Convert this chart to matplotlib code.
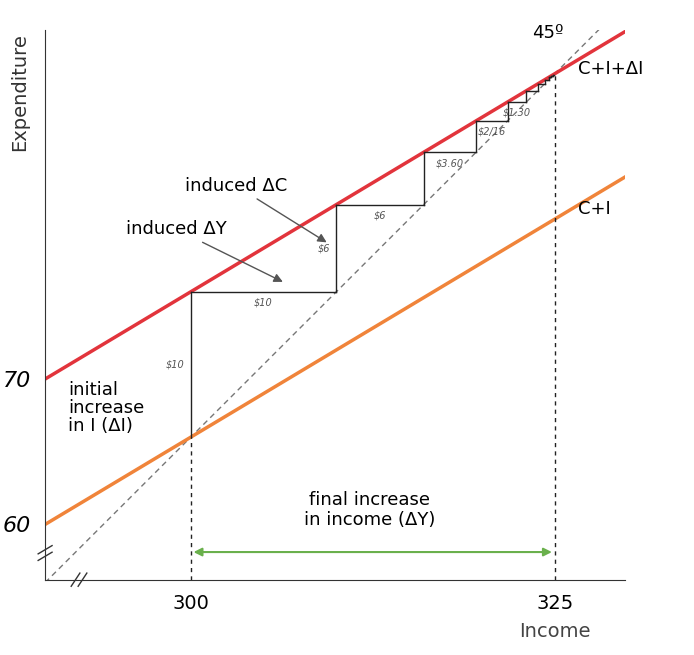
import matplotlib
matplotlib.use("Agg")
import matplotlib.pyplot as plt
import numpy as np

mpc = 0.6
income_range = [290, 330]
y0 = 300          # initial equilibrium income
delta_i = 10      # initial increase in investment
y1 = 325          # final income
vert_labels = ["$10", "$6"]
horiz_labels = ["$10", "$6", "$3.60", "$2/16", "$1.30"]
ytick_vals = [294, 304]
ytick_labels = ["60", "70"]
xtick_vals = [300, 325]
xtick_labels = ["300", "325"]

RED = "#e2343c"; ORANGE = "#f0843a"; GREEN = "#6ab04c"

fig = plt.figure(figsize=(6.94, 6.55), dpi=100)
ax = fig.add_axes([0.065, 0.115, 0.835, 0.839])
ax.set_xlim(290, 329.8)
ax.set_ylim(290.2, 328)
for s in ["top", "right"]:
    ax.spines[s].set_visible(False)
ax.spines["left"].set_color("#333"); ax.spines["bottom"].set_color("#333")

x = np.array(income_range, float)
ax.plot(x, x, ls=(0, (4, 3)), color="#777", lw=1)
ax.plot(x, y0 + delta_i + mpc * (x - y0), color=RED, lw=2.5)
ax.plot(x, y0 + mpc * (x - y0), color=ORANGE, lw=2.5)

# multiplier staircase
yy, e = y0, y0
inc = delta_i
for i in range(12):
    ax.plot([yy, yy], [e, e + inc], color="#222", lw=1)
    if i < len(vert_labels):
        ax.text(yy - 0.4, e + inc / 2, vert_labels[i], fontsize=7, style="italic",
                color="#555", ha="right", va="center")
    e += inc
    ax.plot([yy, yy + inc], [e, e], color="#222", lw=1)
    if i < len(horiz_labels):
        ax.text(yy + inc / 2, e - 0.4, horiz_labels[i], fontsize=7, style="italic",
                color="#555", ha="center", va="top")
    yy += inc
    inc *= mpc

ax.plot([y0, y0], [290.2, y0], ls=(0, (3, 3)), color="#222", lw=1)
ax.plot([y1, y1], [290.2, y1], ls=(0, (3, 3)), color="#222", lw=1)
ax.annotate("", xy=(y0, 292.1), xytext=(y1, 292.1),
            arrowprops=dict(arrowstyle="<|-|>", color=GREEN, lw=1.5, mutation_scale=12))

ax.annotate("induced ΔC", xy=(309.5, 313.3), xytext=(303.1, 317.3), fontsize=13, ha="center", va="center",
            arrowprops=dict(arrowstyle="-|>", color="#555", lw=1))
ax.annotate("induced ΔY", xy=(306.5, 310.6), xytext=(299, 314.3), fontsize=13, ha="center", va="center",
            arrowprops=dict(arrowstyle="-|>", color="#555", lw=1))
ax.text(291.6, 302, "initial\nincrease\nin I (ΔI)", fontsize=13, va="center", ha="left", linespacing=1.0)
ax.text(312.3, 295.0, "final increase\nin income (ΔY)", fontsize=13, ha="center", va="center", linespacing=1.1)
ax.text(326.6, 325.3, "C+I+ΔI", fontsize=13, ha="left", va="center")
ax.text(326.6, 315.7, "C+I", fontsize=13, ha="left", va="center")
ax.text(324.5, 327.8, "45º", fontsize=13, ha="center", va="center")

ax.set_xticks(xtick_vals, xtick_labels, fontsize=14)
ax.set_yticks(ytick_vals, ytick_labels, fontsize=16, style="italic")
ax.tick_params(length=0, pad=10)
ax.text(325, 287.3, "Income", fontsize=14, ha="center", va="top", color="#444")
fig.text(0.028, 0.86, "Expenditure", rotation=90, fontsize=14, ha="center", va="center", color="#333")

# axis break marks
for dx in (0.0, 0.012):
    ax.plot([0.045 + dx, 0.06 + dx], [-0.012, 0.012], transform=ax.transAxes, color="#333", lw=1, clip_on=False)
    ax.plot([-0.012, 0.012], [0.035 + dx, 0.05 + dx], transform=ax.transAxes, color="#333", lw=1, clip_on=False)

fig.savefig("out.png", dpi=100)
